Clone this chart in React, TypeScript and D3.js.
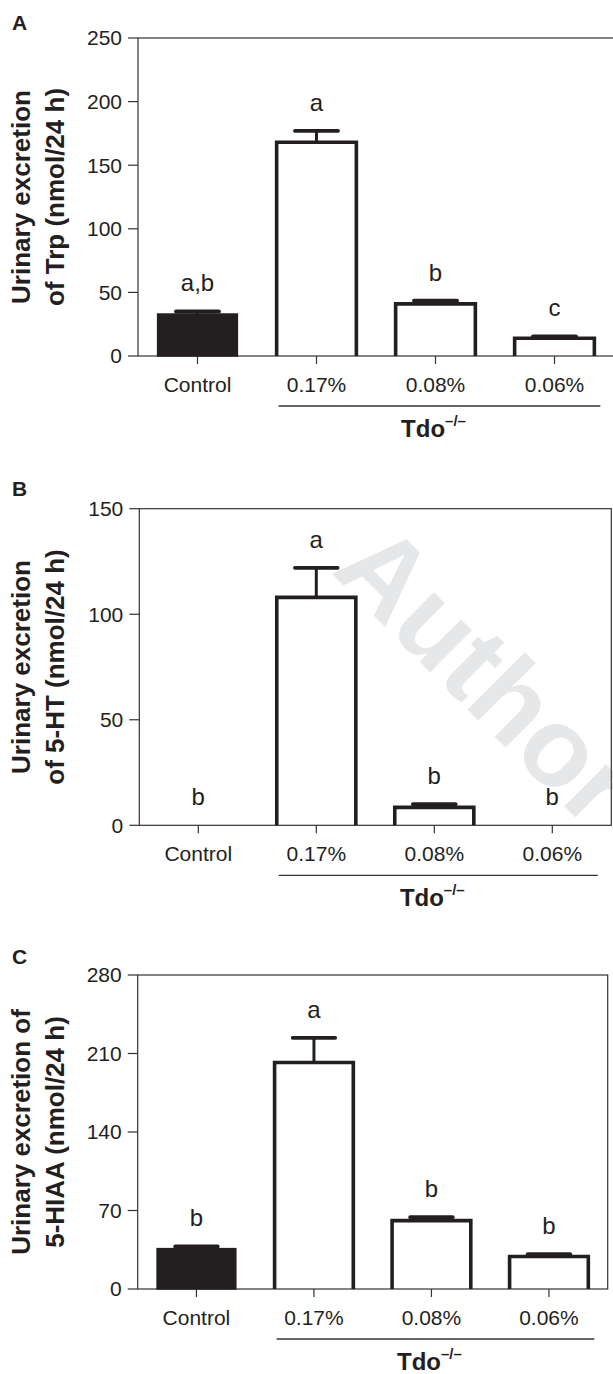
import React from 'react';
import * as d3 from 'd3';

// groups on the x axis
const categories = ['Control', '0.17%', '0.08%', '0.06%'];

// panel A: Trp
const trpMean = [33, 168, 41, 14];
const trpErr = [2, 9, 2.5, 1.5];
const trpLetters = ['a,b', 'a', 'b', 'c'];
const trpTicks = [0, 50, 100, 150, 200, 250];

// panel B: 5-HT
const htMean = [0, 108, 8.5, 0];
const htErr = [0, 14, 1.5, 0];
const htLetters = ['b', 'a', 'b', 'b'];
const htTicks = [0, 50, 100, 150];

// panel C: 5-HIAA
const hiaaMean = [36, 202, 61, 29];
const hiaaErr = [2, 22, 3, 2];
const hiaaLetters = ['b', 'a', 'b', 'b'];
const hiaaTicks = [0, 70, 140, 210, 280];

const ink = '#231f20';
const font = '"Liberation Sans", Arial, Helvetica, sans-serif';

type PanelProps = {
  tag: string;
  tagY: number;
  left: number;
  top: number;
  width: number;
  height: number;
  ticks: number[];
  mean: number[];
  err: number[];
  letters: string[];
  title: string[];
};

function Panel(props: PanelProps) {
  const { tag, tagY, left, top, width, height, ticks, mean, err, letters, title } = props;
  const x = d3.scaleBand().domain(categories).range([0, width]).paddingInner(0.33).paddingOuter(0.165);
  const y = d3.scaleLinear().domain([0, ticks[ticks.length - 1]]).range([height, 0]);
  const bw = x.bandwidth();
  const capW = bw * 0.54;
  const base = y(0);

  // group line under the Tdo-/- bars
  const lineStart = (x('0.17%') as number) + 2;
  const lineEnd = (x('0.06%') as number) + bw + 6;

  return (
    <g>
      <text x={12} y={tagY} fontFamily={font} fontWeight="bold" fontSize={21} fill={ink}>{tag}</text>
      {title.map((t, i) => (
        <text key={t} transform={`translate(${30 + i * 34},${top + height / 2}) rotate(-90)`}
          textAnchor="middle" fontFamily={font} fontWeight="bold" fontSize={26} fill={ink}>{t}</text>
      ))}
      <g transform={`translate(${left},${top})`}>
        <rect x={0} y={0} width={width} height={height} fill="none" stroke="#333" strokeWidth={1.2} />
        {ticks.map(t => (
          <g key={t}>
            <line x1={-10} x2={0} y1={y(t)} y2={y(t)} stroke="#333" strokeWidth={1.2} />
            <text x={-16} y={y(t)} dy="0.35em" textAnchor="end" fontFamily={font} fontSize={21} fill={ink}>{t}</text>
          </g>
        ))}
        {categories.map((c, i) => {
          const x0 = x(c) as number;
          const cx = x0 + bw / 2;
          const top1 = y(mean[i]);
          const topE = y(mean[i] + err[i]);
          return (
            <g key={c}>
              <line x1={cx} x2={cx} y1={base} y2={base + 8} stroke="#333" strokeWidth={1.2} />
              <text x={cx} y={base + 36} textAnchor="middle" fontFamily={font} fontSize={21} fill={ink}>{c}</text>
              {mean[i] > 0 && i === 0 && (
                <rect x={x0} y={top1} width={bw} height={base - top1} fill={ink} stroke={ink} strokeWidth={1.5} />
              )}
              {mean[i] > 0 && i > 0 && (
                <path d={`M${x0},${base}V${top1}H${x0 + bw}V${base}`} fill="none" stroke={ink}
                  strokeWidth={3.6} strokeLinejoin="miter" />
              )}
              {err[i] > 0 && (
                <g stroke={ink}>
                  <line x1={cx} x2={cx} y1={top1} y2={topE} strokeWidth={3} />
                  <line x1={cx - capW / 2} x2={cx + capW / 2} y1={topE} y2={topE} strokeWidth={3.8} strokeLinecap="round" />
                </g>
              )}
              <text x={cx} y={topE - 20} textAnchor="middle" fontFamily={font} fontSize={24} fill={ink}>{letters[i]}</text>
            </g>
          );
        })}
        <line x1={lineStart} x2={lineEnd} y1={base + 50} y2={base + 50} stroke="#333" strokeWidth={1.3} />
        <text x={(lineStart + lineEnd) / 2 - 6} y={base + 81} textAnchor="middle" fontFamily={font} fontWeight="bold" fontSize={24} fill={ink}>
          Tdo<tspan fontSize={15} dy={-11}>–/–</tspan>
        </text>
      </g>
    </g>
  );
}

export default function App() {
  return (
    <svg width={613} height={1374} style={{ position: 'absolute', left: 0, top: 0, background: '#fff' }}>
      <rect width={613} height={1374} fill="#fff" />
      <text transform="translate(330,572) rotate(45)" fontFamily={font} fontWeight="bold" fontSize={112} fill="#e6e7e8">
        Author's
      </text>
      <Panel tag="A" tagY={30} left={138} top={38} width={476} height={318} ticks={trpTicks}
        mean={trpMean} err={trpErr} letters={trpLetters}
        title={['Urinary excretion', 'of Trp (nmol/24 h)']} />
      <Panel tag="B" tagY={496} left={139.3} top={508.7} width={472} height={316.6} ticks={htTicks}
        mean={htMean} err={htErr} letters={htLetters}
        title={['Urinary excretion', 'of 5-HT (nmol/24 h)']} />
      <Panel tag="C" tagY={964} left={137.7} top={975} width={470} height={314} ticks={hiaaTicks}
        mean={hiaaMean} err={hiaaErr} letters={hiaaLetters}
        title={['Urinary excretion of', '5-HIAA (nmol/24 h)']} />
    </svg>
  );
}
